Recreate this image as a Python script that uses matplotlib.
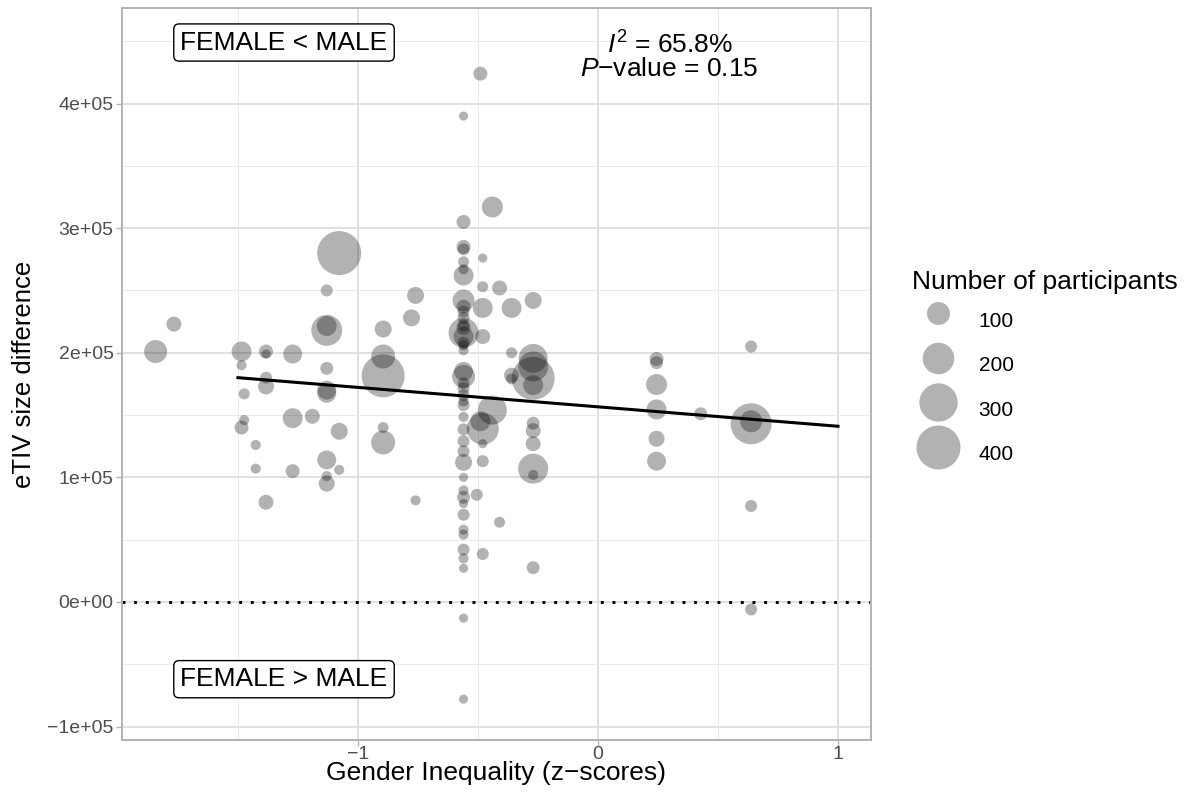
import matplotlib
matplotlib.use("Agg")
import matplotlib.pyplot as plt
import numpy as np

plt.rcParams['font.family'] = ['Liberation Sans', 'DejaVu Sans']
plt.rcParams['mathtext.fontset'] = 'custom'
plt.rcParams['mathtext.rm'] = 'Liberation Sans'
plt.rcParams['mathtext.it'] = 'Liberation Sans:italic'

# gender inequality (z-score), eTIV difference (mm3) and sample size per site
gii = [-0.56] * 42 + [-0.49, -0.48, -0.48, -0.48, -0.48, -0.49, -0.48, -0.48, -0.48, -0.505, -0.48,
       -0.44, -0.44, -0.41, -0.41, -0.36, -0.36, -0.36, -0.36,
       -0.27, -0.27, -0.27, -0.27, -0.27, -0.27, -0.27, -0.27, -0.27, -0.27, -0.27,
       0.244, 0.244, 0.244, 0.244, 0.244, 0.244, 0.428,
       0.638, 0.638, 0.638, 0.638, 0.638,
       -1.843, -1.767, -1.485, -1.485, -1.485, -1.474, -1.474, -1.426, -1.426,
       -1.383, -1.383, -1.383, -1.383, -1.383, -1.272, -1.272, -1.272, -1.19,
       -1.13, -1.13, -1.13, -1.13, -1.13, -1.13, -1.13, -1.13, -1.13,
       -1.078, -1.078, -1.078, -0.895, -0.895, -0.895, -0.895, -0.895,
       -0.777, -0.76, -0.76]
etiv = [3.90, 3.05, 2.85, 2.83, 2.73, 2.67, 2.62, 2.42, 2.37, 2.33, 2.28, 2.22, 2.20, 2.16,
        2.13, 2.08, 2.06, 2.02, 1.85, 1.81, 1.755, 1.715, 1.66, 1.61, 1.58, 1.485, 1.385,
        1.29, 1.21, 1.12, 1.00, 0.895, 0.84, 0.79, 0.70, 0.58, 0.54, 0.42, 0.35, 0.27,
        -0.13, -0.78,
        4.24, 2.76, 2.53, 2.36, 2.13, 1.45, 1.39, 1.27, 1.13, 0.86, 0.385,
        3.17, 1.54, 2.52, 0.64, 2.36, 2.00, 1.82, 1.79,
        2.42, 1.955, 1.89, 1.795, 1.74, 1.435, 1.375, 1.27, 1.07, 1.02, 0.275,
        1.95, 1.92, 1.745, 1.545, 1.31, 1.13, 1.51,
        2.05, 1.43, 1.45, 0.77, -0.06,
        2.01, 2.23, 2.01, 1.90, 1.40, 1.46, 1.67, 1.26, 1.07,
        2.01, 1.99, 1.80, 1.73, 0.80, 1.99, 1.475, 1.05, 1.49,
        2.50, 2.18, 2.215, 1.875, 1.70, 1.675, 1.14, 1.01, 0.95,
        2.80, 1.37, 1.06, 2.19, 1.97, 1.815, 1.40, 1.28,
        2.28, 2.46, 0.815]
etiv = [v * 1e5 for v in etiv]
n_part = [5, 29, 29, 18, 13, 9, 72, 90, 29, 18, 18, 18, 29, 179,
          72, 18, 9, 9, 64, 100, 18, 18, 18, 9, 18, 9, 18,
          18, 18, 49, 5, 9, 23, 5, 18, 9, 9, 18, 9, 5,
          5, 5,
          29, 5, 13, 72, 35, 72, 205, 5, 18, 18, 18,
          81, 166, 35, 13, 72, 13, 35, 13,
          49, 166, 179, 381, 72, 23, 35, 35, 179, 9, 23,
          29, 23, 81, 72, 42, 64, 23,
          18, 346, 90, 18, 18,
          100, 35, 72, 9, 29, 9, 13, 9, 9,
          29, 5, 18, 42, 35, 64, 72, 29, 35,
          18, 192, 72, 23, 64, 64, 64, 9, 42,
          400, 49, 9, 49, 110, 381, 13, 110,
          49, 49, 9]

# meta-regression fit
reg_range = [-1.5, 1.0]
reg_intercept = 1.566e5
reg_slope = -0.156e5

legend_sizes = [100, 200, 300, 400]


def marker_area(n):
    return 31.1 + 2.43 * np.asarray(n, dtype=float)


fig = plt.figure(figsize=(11.86, 7.98), dpi=100)
ax = fig.add_axes([122 / 1186, 1 - 740 / 798, 749 / 1186, 732 / 798])

ax.set_xlim(-1.983, 1.1375)
ax.set_ylim(-1.108e5, 4.767e5)
ax.set_xticks([-1, 0, 1])
ax.set_xticklabels(['\u22121', '0', '1'])
ax.set_yticks([-1e5, 0, 1e5, 2e5, 3e5, 4e5])
ax.set_yticklabels(['\u22121e+05', '0e+00', '1e+05', '2e+05', '3e+05', '4e+05'])
ax.set_xticks([-1.5, -0.5, 0.5], minor=True)
ax.set_yticks(np.arange(-0.5e5, 4.6e5, 1e5), minor=True)
ax.grid(which='major', color='#DEDEDE', lw=1.3)
ax.grid(which='minor', color='#EBEBEB', lw=0.7)
ax.set_axisbelow(True)
ax.tick_params(which='major', length=4, width=1, color='#B3B3B3',
               labelcolor='#4D4D4D', labelsize=14, pad=2)
ax.tick_params(axis='x', pad=0)
ax.tick_params(which='minor', length=0)
for sp in ax.spines.values():
    sp.set_color('#B3B3B3')
    sp.set_linewidth(1.4)

ax.axhline(0, color='black', lw=2.1, ls=(0, (1, 3)), zorder=2)
ax.scatter(gii, etiv, s=marker_area(n_part), color='black', alpha=0.3, lw=0, zorder=3)

xr = np.array(reg_range)
ax.plot(xr, reg_intercept + reg_slope * xr, color='black', lw=2.2, zorder=4)

box = dict(boxstyle='round,pad=0.25,rounding_size=0.2', fc='white', ec='black', lw=1)
ax.text(-1.308, 4.49e5, 'FEMALE < MALE', fontsize=19, ha='center', va='center', bbox=box, zorder=5)
ax.text(-1.308, -0.62e5, 'FEMALE > MALE', fontsize=19, ha='center', va='center', bbox=box, zorder=5)
ax.text(0.298, 4.40e5, r'$I^2$ = 65.8%', fontsize=19, ha='center', va='baseline', zorder=5)
ax.text(0.298, 4.22e5, '$P$\u2212value = 0.15', fontsize=19, ha='center', va='baseline', zorder=5)

ax.set_xlabel('Gender Inequality (z\u2212scores)', fontsize=19, labelpad=-1)
ax.set_ylabel('eTIV size difference', fontsize=18.5, labelpad=8)

handles = [ax.scatter([], [], s=marker_area(v), color='black', alpha=0.3, lw=0, label=str(v))
           for v in legend_sizes]
leg = ax.legend(handles=handles, title='Number of participants', loc='upper left',
                bbox_to_anchor=(912 / 1186, 1 - 270 / 798), bbox_transform=fig.transFigure,
                frameon=False, fontsize=15, title_fontsize=19, borderpad=0, borderaxespad=0,
                handlelength=2.5, handleheight=2.27, handletextpad=0.7,
                labelspacing=0.41, scatterpoints=1, alignment='left')

fig.savefig('out.png', dpi=100)
